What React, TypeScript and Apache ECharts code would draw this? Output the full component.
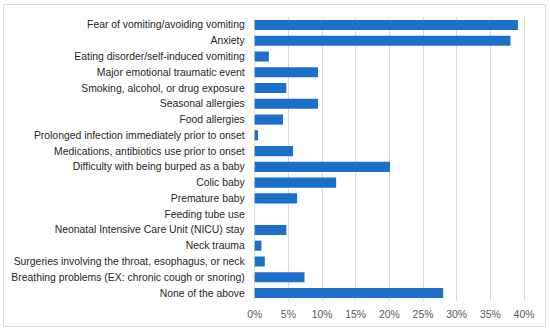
import React, { useEffect, useRef } from "react";
import * as echarts from "echarts";

const categories = [
  "Fear of vomiting/avoiding vomiting",
  "Anxiety",
  "Eating disorder/self-induced vomiting",
  "Major emotional traumatic event",
  "Smoking, alcohol, or drug exposure",
  "Seasonal allergies",
  "Food allergies",
  "Prolonged infection immediately prior to onset",
  "Medications, antibiotics use prior to onset",
  "Difficulty with being burped as a baby",
  "Colic baby",
  "Premature baby",
  "Feeding tube use",
  "Neonatal Intensive Care Unit (NICU) stay",
  "Neck trauma",
  "Surgeries involving the throat, esophagus, or neck",
  "Breathing problems (EX: chronic cough or snoring)",
  "None of the above",
];

const values = [39.1, 38.0, 2.1, 9.4, 4.7, 9.4, 4.2, 0.5, 5.7, 20.1, 12.1, 6.3, 0, 4.7, 1.0, 1.5, 7.4, 28.0];

const xTicks = [0, 5, 10, 15, 20, 25, 30, 35, 40];

const FONT = "Liberation Sans";

export default function App() {
  const ref = useRef<HTMLDivElement>(null);
  useEffect(() => {
    document.body.style.margin = "0";
    const chart = echarts.init(ref.current!, null, { renderer: "svg" });
    chart.setOption({
      animation: false,
      backgroundColor: "#ffffff",
      textStyle: { fontFamily: FONT },
      graphic: [
        {
          type: "rect",
          shape: { x: 3.5, y: 4.5, width: 542, height: 322 },
          style: { fill: "none", stroke: "#d9d9d9", lineWidth: 1 },
          silent: true,
        },
      ],
      grid: { left: 254.7, right: 26, top: 17.1, bottom: 31.1, containLabel: false },
      xAxis: {
        type: "value",
        min: xTicks[0],
        max: xTicks[xTicks.length - 1],
        interval: 5,
        axisLabel: {
          formatter: (v: number) => v + "%",
          fontSize: 10.4,
          fontFamily: FONT,
          color: "#595959",
          margin: 9,
        },
        axisLine: { show: false },
        axisTick: { show: false },
        splitLine: { show: true, lineStyle: { color: "#d9d9d9", width: 1 } },
      },
      yAxis: {
        type: "category",
        inverse: true,
        data: categories,
        axisLabel: { fontSize: 10.4, fontFamily: FONT, color: "#262626", margin: 10 },
        axisLine: { show: false },
        axisTick: { show: false },
        splitLine: { show: false },
      },
      series: [
        {
          type: "bar",
          data: values,
          barCategoryGap: "36%",
          itemStyle: { color: "#1c70c9" },
        },
      ],
    });
    return () => chart.dispose();
  }, []);
  return <div ref={ref} style={{ width: 550, height: 332 }} />;
}
